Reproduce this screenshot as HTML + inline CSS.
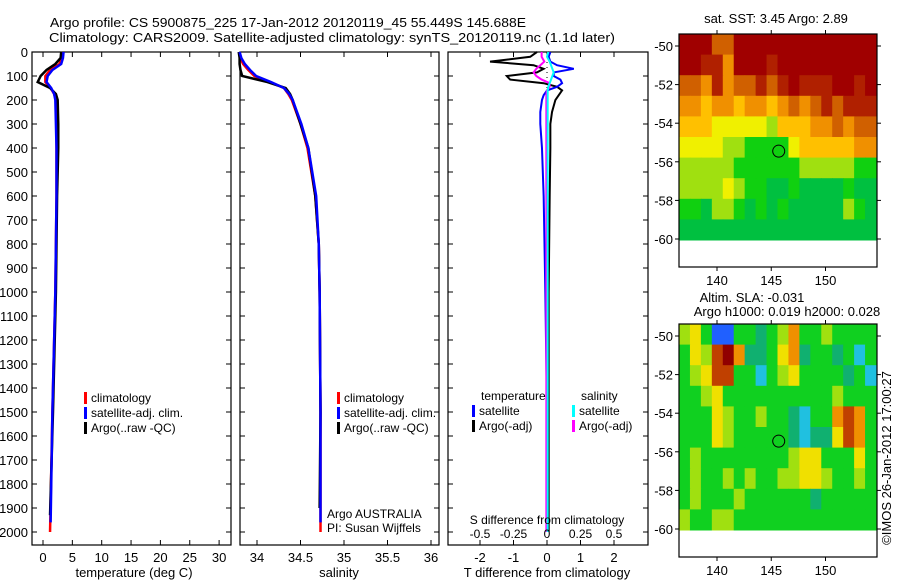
<!DOCTYPE html>
<html><head><meta charset="utf-8">
<style>
html,body{margin:0;padding:0;background:#fff;}
svg text{font-family:"Liberation Sans",sans-serif;font-size:13px;fill:#000;}
svg text.lg{font-size:12px;}
</style></head>
<body>
<svg id="chart" width="900" height="580" viewBox="0 0 900 580" xmlns="http://www.w3.org/2000/svg">
<text x="50" y="27" font-size="14" textLength="476" lengthAdjust="spacingAndGlyphs">Argo profile: CS 5900875_225 17-Jan-2012 20120119_45 55.449S 145.688E</text>
<text x="49" y="42" font-size="14" textLength="566" lengthAdjust="spacingAndGlyphs">Climatology: CARS2009. Satellite-adjusted climatology: synTS_20120119.nc (1.1d later)</text>
<g id="g"></g>
</svg>
<script>
// ---- data ----
const depth = [0,25,50,75,100,125,150,175,200,300,400,600,800,1000,1500,2000];
const tClim = [3.3,3.2,2.8,1.2,0.4,0.4,1.3,1.9,2.2,2.3,2.3,2.3,2.2,2.1,1.6,1.2];
const tSat  = [3.5,3.4,3.1,1.6,0.8,0.6,1.4,1.9,2.1,2.2,2.3,2.3,2.2,2.1,1.6,1.3];
const tArgo = [3.1,3.0,2.1,0.6,-0.4,-0.9,1.2,2.2,2.5,2.6,2.6,2.4,2.3,2.2,1.7,1.2];
const sClim = [33.8,33.81,33.84,33.9,33.97,34.15,34.31,34.36,34.4,34.5,34.58,34.67,34.71,34.72,34.73,34.73];
const sSat  = [33.8,33.82,33.86,33.92,33.99,34.16,34.31,34.37,34.41,34.51,34.59,34.68,34.71,34.72,34.73,34.73];
const sArgo = [33.79,33.8,33.8,33.81,33.83,34.12,34.33,34.38,34.41,34.5,34.59,34.67,34.71,34.72,34.73,34.72];
const dDepth = [0,20,40,55,70,85,100,115,130,145,160,180,200,250,300,400,600,1000,1500,2000];
const tDiffArgo = [-0.3,-0.5,-1.7,-0.4,-0.1,-0.3,-1.2,-1.1,-0.1,0.3,0.45,0.35,0.25,0.15,0.1,0.1,0.08,0.05,0.05,0.05];
const tDiffSat  = [0.1,0.05,0.1,0.3,0.8,0.2,0.2,0.4,0.45,0.3,0.0,-0.1,-0.15,-0.2,-0.2,-0.15,-0.1,-0.05,0,0];
const sDiffArgo = [-0.04,-0.04,-0.02,-0.05,-0.08,-0.1,-0.08,-0.04,0.02,0.02,0.0,-0.005,-0.005,-0.005,-0.005,-0.005,-0.005,-0.005,-0.005,-0.005];
const sDiffSat  = [0.01,0.0,0.02,0.03,0.04,0.05,0.04,0.03,0.02,0.01,0.005,0.005,0.005,0.005,0.005,0.005,0.005,0.005,0.005,0.005];
const depthTicks = [0,100,200,300,400,500,600,700,800,900,1000,1100,1200,1300,1400,1500,1600,1700,1800,1900,2000];
const tTicks = [0,5,10,15,20,25,30];
const sTicks = [34,34.5,35,35.5,36];
const sTickLabels = ["34","34.5","35","35.5","36"];
const dTTicks = [-2,-1,0,1,2];
const dSTicks = [-0.5,-0.25,0,0.25,0.5];
const dSTickLabels = ["-0.5","-0.25","0","0.25","0.5"];
const latTicks = [-50,-52,-54,-56,-58,-60];
const lonTicks = [140,145,150];
const sstRows = ["999779999999999999","998869998999999999","776867787898889989","665665665676787888","555444443555667677","444433222245555566","333332222223333322","333343221121111211","221332121211111321","111111111111111111"];
const slaRows = ["453003323463343333","354786223562332313","345773313453333231","334533333333334333","333543343321336763","333543333321225763","343333333345533353","343343433445543343","343334333333233333","433443333333333333"];
const argoLon = 145.688, argoLat = -55.449;

// ---- helpers ----
const NS="http://www.w3.org/2000/svg";
const G=document.getElementById('g');
function el(tag,attrs,parent){const e=document.createElementNS(NS,tag);for(const k in attrs)e.setAttribute(k,attrs[k]);(parent||G).appendChild(e);return e;}
function txt(s,x,y,anchor,parent){const t=el('text',{x:x,y:y,'text-anchor':anchor||'start'},parent);t.textContent=s;return t;}
const yD = d => 52 + d*0.24;
const TOP=52, BOT=545;
const xT = v => 43 + v*5.87;
const xS = v => 257 + (v-34)*87;
const xDT = v => 547 + v*33.5;
const xDS = v => 547 + v*134;

function frame(x0,x1,name){
  const r=el('rect',{x:x0,y:TOP,width:x1-x0,height:BOT-TOP,fill:'none',stroke:'#000','stroke-width':1.2});
  
  
  depthTicks.forEach(d=>{el('line',{x1:x0,x2:x0+5,y1:yD(d),y2:yD(d),stroke:'#000'});el('line',{x1:x1,x2:x1-5,y1:yD(d),y2:yD(d),stroke:'#000'});});
}
function xticks(vals,fx,labels,ly,name){
  vals.forEach((v,i)=>{const x=fx(v);el('line',{x1:x,x2:x,y1:BOT,y2:BOT-5,stroke:'#000'});el('line',{x1:x,x2:x,y1:TOP,y2:TOP+5,stroke:'#000'});
    const t=txt(labels?labels[i]:String(v),x,ly,'middle');
    
    });
}
function line(xs,ds,fx,color,w,name){
  const p=el('polyline',{points:xs.map((v,i)=>fx(v)+','+yD(ds[i])).join(' '),fill:'none',stroke:color,'stroke-width':w||2.5});
  
  
}
function legend(items,x,y0,name){
  items.forEach((it,i)=>{const y=y0+i*15;el('rect',{x:x,y:y-10,width:3,height:12,fill:it[1]});
    const t=txt(it[0],x+7,y);
    t.setAttribute('class','lg');
    
    });
}

// ---- panel 1 temperature ----
frame(32,231,'temperature-panel');
depthTicks.forEach(d=>{const t=txt(String(d),28,yD(d)+5,'end');
  
  });
xticks(tTicks,xT,null,562,'temperature-tick-label');
let t1=txt('temperature (deg C)',134,577,'middle');


line(tClim,depth,xT,'#f00',2.5,'temperature-climatology-line');
line(tArgo,depth.map(d=>Math.min(d,1930)),xT,'#000',2.5,'temperature-argo-line');
line(tSat,depth.map(d=>Math.min(d,1960)),xT,'#00f',2.5,'temperature-satellite-line');
legend([['climatology','#f00'],['satellite-adj. clim.','#00f'],['Argo(..raw -QC)','#000']],84,402,'temperature-legend-entry');

// ---- panel 2 salinity ----
frame(240,439,'salinity-panel');
xticks(sTicks,xS,sTickLabels,562,'salinity-tick-label');
let t2=txt('salinity',339,577,'middle');


line(sClim,depth,xS,'#f00',2.5,'salinity-climatology-line');
line(sArgo,depth.map(d=>Math.min(d,1900)),xS,'#000',2.5,'salinity-argo-line');
line(sSat,depth.map(d=>Math.min(d,1960)),xS,'#00f',2.5,'salinity-satellite-line');
legend([['climatology','#f00'],['satellite-adj. clim.','#00f'],['Argo(..raw -QC)','#000']],337,402,'salinity-legend-entry');
let a1=txt('Argo AUSTRALIA',327,518);a1.setAttribute('class','lg');
let a2=txt('PI: Susan Wijffels',327,532);a2.setAttribute('class','lg');

// ---- panel 3 differences ----
frame(448,648,'difference-panel');
xticks(dTTicks,xDT,null,562,'t-difference-tick-label');
el('line',{x1:547,x2:547,y1:yD(0),y2:yD(2000),stroke:'#000','stroke-dasharray':'1,4'});
line(tDiffArgo,dDepth,xDT,'#000',2,'t-difference-argo-line');
line(tDiffSat,dDepth,xDT,'#00f',2,'t-difference-satellite-line');
line(sDiffArgo,dDepth,xDS,'#f0f',2,'s-difference-argo-line');
line(sDiffSat,dDepth,xDS,'#0ff',2,'s-difference-satellite-line');
let t3=txt('T difference from climatology',547,577,'middle');
let t4=txt('S difference from climatology',547,524,'middle');t4.setAttribute('class','lg');
dSTicks.forEach((v,i)=>{const t=txt(dSTickLabels[i],xDS(v),538,'middle');
  t.setAttribute('class','lg');
  
  });
let lh1=txt('temperature',481,400);lh1.setAttribute('class','lg');
let lh2=txt('salinity',581,400);lh2.setAttribute('class','lg');
legend([['satellite','#00f'],['Argo(-adj)','#000']],472,415,'t-difference-legend-entry');
legend([['satellite','#0ff'],['Argo(-adj)','#f0f']],572,415,'s-difference-legend-entry');

// ---- maps ----
const sstCols=['#00b070','#00c040','#10d010','#a0e010','#f0f000','#ffc000','#f09000','#d06000','#b02000','#a00000'];
const slaCols=['#2060ff','#20c0e0','#10b070','#10d020','#a0e010','#f0e000','#f09000','#c04000','#900000'];
function map(y0,rows,cols,name){
  const X0=679,X1=877,Yb=y0+233;
  const xL=v=>717+(v-140)*10.85, yL=v=>y0+12+(-50-v)*19.3;
  const nr=rows.length,nc=rows[0].length,cw=(876-X0)/nc,ch=206/nr;
  rows.forEach((r,i)=>{for(let j=0;j<nc;j++){const c=el('rect',{x:X0+j*cw,y:y0+i*ch,width:cw+0.5,height:ch+0.5,fill:cols[+r[j]]});
    
    }});
  const f=el('rect',{x:X0,y:y0,width:X1-X0,height:Yb-y0,fill:'none',stroke:'#000','stroke-width':1.2});
  
  
  latTicks.forEach(v=>{const y=yL(v);el('line',{x1:X0,x2:X0-4,y1:y,y2:y,stroke:'#000'});el('line',{x1:X1,x2:X1+4,y1:y,y2:y,stroke:'#000'});
    const t=txt(String(v),673,y+5,'end');});
  lonTicks.forEach(v=>{const x=xL(v);el('line',{x1:x,x2:x,y1:Yb,y2:Yb+4,stroke:'#000'});el('line',{x1:x,x2:x,y1:y0,y2:y0-4,stroke:'#000'});
    const t=txt(String(v),x,Yb+18,'middle');});
  const m=el('circle',{cx:xL(argoLon),cy:yL(argoLat),r:6,fill:'none',stroke:'#000','stroke-width':1});
  
  
}
map(34,sstRows,sstCols,'sst-map');
map(324,slaRows,slaCols,'sla-map');
let m1=txt('sat. SST: 3.45 Argo: 2.89',776,23,'middle');
let m2=txt('Altim. SLA: -0.031',752,302,'middle');
let m3=txt('Argo h1000: 0.019 h2000: 0.028',787,316,'middle');
let cr=txt('©IMOS 26-Jan-2012 17:00:27',0,0,'middle');
cr.setAttribute('transform','translate(891,458) rotate(-90)');


</script>
</body></html>
